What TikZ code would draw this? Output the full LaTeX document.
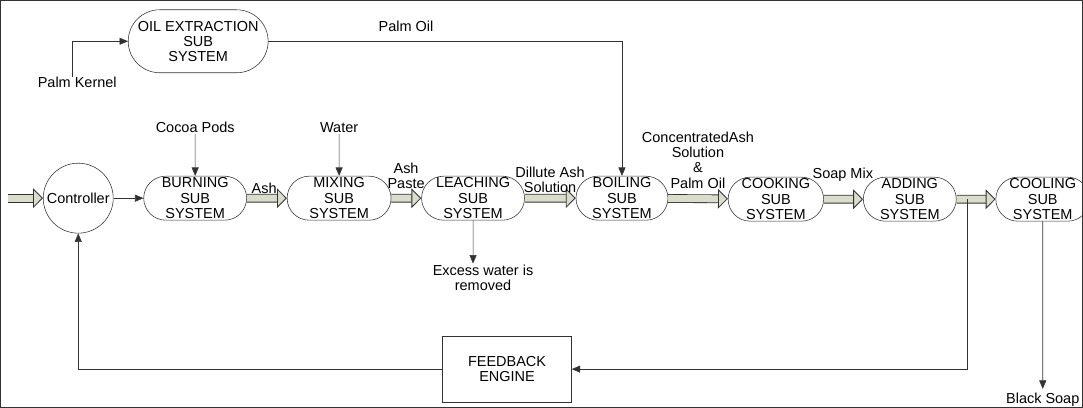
\documentclass[tikz,border=0pt]{standalone}
\usepackage{fontspec}
\setmainfont{Liberation Sans}
\usepackage{tikz}
\usetikzlibrary{positioning,arrows.meta,shapes.misc}
\usepackage{xcolor}
\definecolor{hollowfill}{RGB}{218,220,204}
\definecolor{linegray}{RGB}{50,50,50}

\begin{document}
\begin{tikzpicture}[x=0.025cm,y=-0.025cm,
  font=\fontsize{10.3}{10.8}\selectfont,
  >={Triangle[length=6pt,width=5pt]},
  every path/.style={draw=linegray},
  sub/.style={draw=linegray,rounded rectangle,align=center,inner sep=0pt,minimum height=44*0.025cm},
  lbl/.style={align=center,inner sep=1pt},
  hollow/.style={double=hollowfill,double distance=5pt,line width=0.6pt,
    -{Triangle[length=7pt,width=14pt,fill=hollowfill]}}]
\useasboundingbox (0,0) rectangle (1083,407);

% process chain
\node[draw=linegray,circle,minimum size=70*0.025cm,inner sep=0pt] (ctrl) at (78,198) {Controller};
\node[sub,minimum width=103*0.025cm] (burn) at (195,198) {BURNING\\SUB\\SYSTEM};
\node[sub,minimum width=104*0.025cm] (mix) at (339,198) {MIXING\\SUB\\SYSTEM};
\node[sub,minimum width=103*0.025cm] (leach) at (473,198) {LEACHING\\SUB\\SYSTEM};
\node[sub,minimum width=92*0.025cm] (boil) at (622,198) {BOILING\\SUB\\SYSTEM};
\node[sub,minimum width=92*0.025cm] (cook) at (776,199) {COOKING\\SUB\\SYSTEM};
\node[sub,minimum width=93*0.025cm] (add) at (910,199) {ADDING\\SUB\\SYSTEM};
\node[sub,minimum width=92*0.025cm] (cool) at (1043,199) {COOLING\\SUB\\SYSTEM};
\node[sub,minimum width=140*0.025cm,minimum height=63*0.025cm] (oil) at (198,41) {OIL EXTRACTION\\SUB\\SYSTEM};
\node[draw=linegray,minimum width=129*0.025cm,minimum height=66*0.025cm,align=center] (fb) at (507,369) {FEEDBACK\\ENGINE};

% inputs and outputs
\node[lbl] (kernel) at (77,82) {Palm Kernel};
\coordinate (kin) at (72,77);
\node[lbl] (cocoa) at (195,127) {Cocoa Pods};
\node[lbl] (water) at (339,127) {Water};
\node[lbl] (excess) at (483,278) {Excess water is\\removed};
\node[lbl,inner sep=3pt] (soap) at (1043,400) {Black Soap};
\coordinate (start) at (8,198);
\coordinate (tap) at (967,199);

\draw[hollow] (start) -- (ctrl);
\draw[->] (ctrl) -- (burn);
\draw[hollow] (burn) -- (mix);
\draw[hollow] (mix) -- (leach);
\draw[hollow] (leach) -- (boil);
\draw[hollow] (boil) -- (cook);
\draw[hollow] (cook) -- (add);
\draw[hollow] (add) -- (cool);

\draw[->] (kin) |- (oil);
\draw[->] (oil) -| (boil);
\draw[->] (cocoa) -- (burn);
\draw[->] (water) -- (mix);
\draw[->] (leach) -- (leach |- excess.north);
\draw[->] (cool) -- (soap);

% feedback loop
\draw[->] (tap) |- (fb);
\draw[->] (fb) -| (ctrl);

% flow labels
\node[lbl] at (406,26) {Palm Oil};
\node[lbl] at (264,188) {Ash};
\node[lbl] at (406,176) {Ash\\Paste};
\node[lbl] at (550,180) {Dillute Ash\\Solution};
\node[lbl] at (698,160) {ConcentratedAsh\\Solution\\\&\\Palm Oil};
\node[lbl] at (843,175) {Soap Mix};
\end{tikzpicture}
\end{document}
